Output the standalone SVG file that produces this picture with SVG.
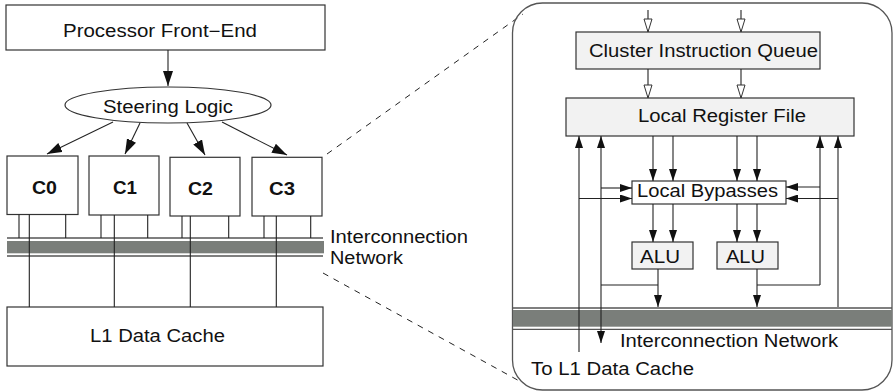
<svg xmlns="http://www.w3.org/2000/svg" width="894" height="391" viewBox="0 0 894 391">
<style>
text{font-family:"Liberation Sans",Arial,Helvetica,sans-serif;font-size:17.5px;fill:#111}
.b{font-weight:bold}
.box{fill:#fff;stroke:#333;stroke-width:1.2}
.gbox{fill:#f2f2f2;stroke:#333;stroke-width:1.2}
.ln{stroke:#222;stroke-width:1.1;fill:none}
.thin{stroke:#555;stroke-width:1.3;fill:none}
.band{fill:#7a7e7a}
.dash{stroke:#222;stroke-width:1;stroke-dasharray:6 6;fill:none}
</style>
<defs>
<marker id="ah" markerWidth="12" markerHeight="8" refX="12" refY="4" orient="auto" markerUnits="userSpaceOnUse"><path d="M0,0 L12,4 L0,8 z" fill="#111"/></marker>
<marker id="ahb" markerWidth="15" markerHeight="10" refX="15" refY="5" orient="auto" markerUnits="userSpaceOnUse"><path d="M0,0 L15,5 L0,10 z" fill="#111"/></marker>
<marker id="hol" markerWidth="15" markerHeight="10" refX="14" refY="5" orient="auto" markerUnits="userSpaceOnUse"><path d="M1,1 L14,5 L1,9 z" fill="#fff" stroke="#333" stroke-width="1"/></marker>
</defs>

<!-- Left side -->
<g id="frontend"><rect class="box" x="6" y="5" width="319" height="45"/><text x="160" y="37" text-anchor="middle" textLength="194" lengthAdjust="spacingAndGlyphs">Processor Front−End</text></g>
<g id="steering"><ellipse class="box" cx="168" cy="105" rx="103" ry="18"/><text x="168" y="113" text-anchor="middle" textLength="130" lengthAdjust="spacingAndGlyphs">Steering Logic</text></g>
<g id="c0"><rect class="box" x="7" y="156" width="71" height="58.5"/><text class="b" x="44.5" y="194" text-anchor="middle" textLength="25" lengthAdjust="spacingAndGlyphs">C0</text></g>
<g id="c1"><rect class="box" x="89" y="156" width="70" height="59"/><text class="b" x="125" y="194" text-anchor="middle" textLength="24" lengthAdjust="spacingAndGlyphs">C1</text></g>
<g id="c2"><rect class="box" x="170" y="157.3" width="70" height="58.7"/><text class="b" x="200.5" y="195" text-anchor="middle" textLength="25" lengthAdjust="spacingAndGlyphs">C2</text></g>
<g id="c3"><rect class="box" x="252" y="157.3" width="70" height="58.7"/><text class="b" x="282" y="195" text-anchor="middle" textLength="26" lengthAdjust="spacingAndGlyphs">C3</text></g>
<g id="l1cache"><rect class="box" x="7" y="307" width="316" height="59"/><text x="157.5" y="342" text-anchor="middle" textLength="135" lengthAdjust="spacingAndGlyphs">L1 Data Cache</text></g>
<g id="bus-left">
<line class="thin" x1="7" y1="238" x2="323" y2="238"/>
<rect class="band" x="7" y="241" width="317" height="12.3"/>
<line class="thin" x1="7" y1="256" x2="323" y2="256"/>
<text x="330" y="243" textLength="138" lengthAdjust="spacingAndGlyphs">Interconnection</text>
<text x="330" y="264" textLength="73" lengthAdjust="spacingAndGlyphs">Network</text>
</g>

<g id="connectors-left">
<line class="ln" x1="168" y1="50" x2="168" y2="86" marker-end="url(#ahb)"/>
<line class="ln" x1="113" y1="122" x2="47" y2="154" marker-end="url(#ahb)"/>
<line class="ln" x1="140" y1="123" x2="125" y2="154" marker-end="url(#ahb)"/>
<line class="ln" x1="187" y1="123" x2="205" y2="155" marker-end="url(#ahb)"/>
<line class="ln" x1="222" y1="122" x2="287" y2="155" marker-end="url(#ahb)"/>
<path class="ln" d="M19,214.5V238 M65.7,214.5V238 M101,215V238 M147.7,215V238 M182,216V238 M228.7,216V238 M264,216V238 M310.7,216V238"/>
<path class="ln" d="M29.3,214.5V307 M114.3,215V307 M190.3,216V307 M276.3,216V307"/>
<line class="dash" x1="327" y1="154" x2="523" y2="14"/>
<line class="dash" x1="323" y1="273" x2="523" y2="383"/>
</g>

<!-- Right side -->
<g id="cluster"><rect x="512.5" y="3" width="379.5" height="387" rx="30" ry="30" fill="none" stroke="#555" stroke-width="1.3"/></g>
<g id="ciq"><rect class="gbox" x="576" y="32" width="244" height="37"/><text x="703.5" y="57" text-anchor="middle" textLength="229" lengthAdjust="spacingAndGlyphs">Cluster Instruction Queue</text></g>
<g id="lrf"><rect class="gbox" x="566" y="98" width="288" height="38"/><text x="722" y="122" text-anchor="middle" textLength="168" lengthAdjust="spacingAndGlyphs">Local Register File</text></g>
<g id="bypass"><rect class="box" x="632" y="181" width="154" height="23"/><text x="707.5" y="197" text-anchor="middle" textLength="141" lengthAdjust="spacingAndGlyphs">Local Bypasses</text></g>
<g id="alu1"><rect class="gbox" x="632" y="242" width="61" height="27"/><text x="660" y="263" text-anchor="middle" textLength="40" lengthAdjust="spacingAndGlyphs">ALU</text></g>
<g id="alu2"><rect class="gbox" x="717" y="242" width="61" height="27"/><text x="745.5" y="263" text-anchor="middle" textLength="39" lengthAdjust="spacingAndGlyphs">ALU</text></g>
<g id="bus-right">
<line class="thin" x1="513" y1="308" x2="892" y2="308"/>
<rect class="band" x="513" y="310" width="379" height="16.7"/>
<line class="thin" x1="513" y1="329.3" x2="892" y2="329.3"/>
<text x="620" y="347" textLength="218" lengthAdjust="spacingAndGlyphs">Interconnection Network</text>
</g>
<g id="tol1"><text x="531" y="375" textLength="163" lengthAdjust="spacingAndGlyphs">To L1 Data Cache</text></g>

<g id="connectors-right">
<line class="ln" x1="648" y1="10" x2="648" y2="32" marker-end="url(#hol)"/>
<line class="ln" x1="741" y1="10" x2="741" y2="32" marker-end="url(#hol)"/>
<line class="ln" x1="648" y1="69" x2="648" y2="98" marker-end="url(#hol)"/>
<line class="ln" x1="741" y1="69" x2="741" y2="98" marker-end="url(#hol)"/>
<line class="ln" x1="653" y1="136" x2="653" y2="181" marker-end="url(#ah)"/>
<line class="ln" x1="673" y1="136" x2="673" y2="181" marker-end="url(#ah)"/>
<line class="ln" x1="737" y1="136" x2="737" y2="181" marker-end="url(#ah)"/>
<line class="ln" x1="757" y1="136" x2="757" y2="181" marker-end="url(#ah)"/>
<line class="ln" x1="653" y1="204" x2="653" y2="242" marker-end="url(#ah)"/>
<line class="ln" x1="673" y1="204" x2="673" y2="242" marker-end="url(#ah)"/>
<line class="ln" x1="737" y1="204" x2="737" y2="242" marker-end="url(#ah)"/>
<line class="ln" x1="757" y1="204" x2="757" y2="242" marker-end="url(#ah)"/>
<line class="ln" x1="658" y1="269" x2="658" y2="307" marker-end="url(#ah)"/>
<line class="ln" x1="757" y1="269" x2="757" y2="307" marker-end="url(#ah)"/>
<path class="ln" d="M601,285H658 M757,285H820"/>
<line class="ln" x1="579" y1="352" x2="579" y2="136" marker-end="url(#ah)"/>
<line class="ln" x1="601" y1="285" x2="601" y2="136" marker-end="url(#ah)"/>
<line class="ln" x1="601" y1="285" x2="601" y2="343" marker-end="url(#ah)"/>
<line class="ln" x1="820" y1="285" x2="820" y2="136" marker-end="url(#ah)"/>
<line class="ln" x1="838" y1="307" x2="838" y2="136" marker-end="url(#ah)"/>
<line class="ln" x1="601" y1="188" x2="632" y2="188" marker-end="url(#ah)"/>
<line class="ln" x1="579" y1="198.5" x2="632" y2="198.5" marker-end="url(#ah)"/>
<line class="ln" x1="820" y1="187" x2="786" y2="187" marker-end="url(#ah)"/>
<line class="ln" x1="838" y1="198.5" x2="786" y2="198.5" marker-end="url(#ah)"/>
</g>
</svg>
